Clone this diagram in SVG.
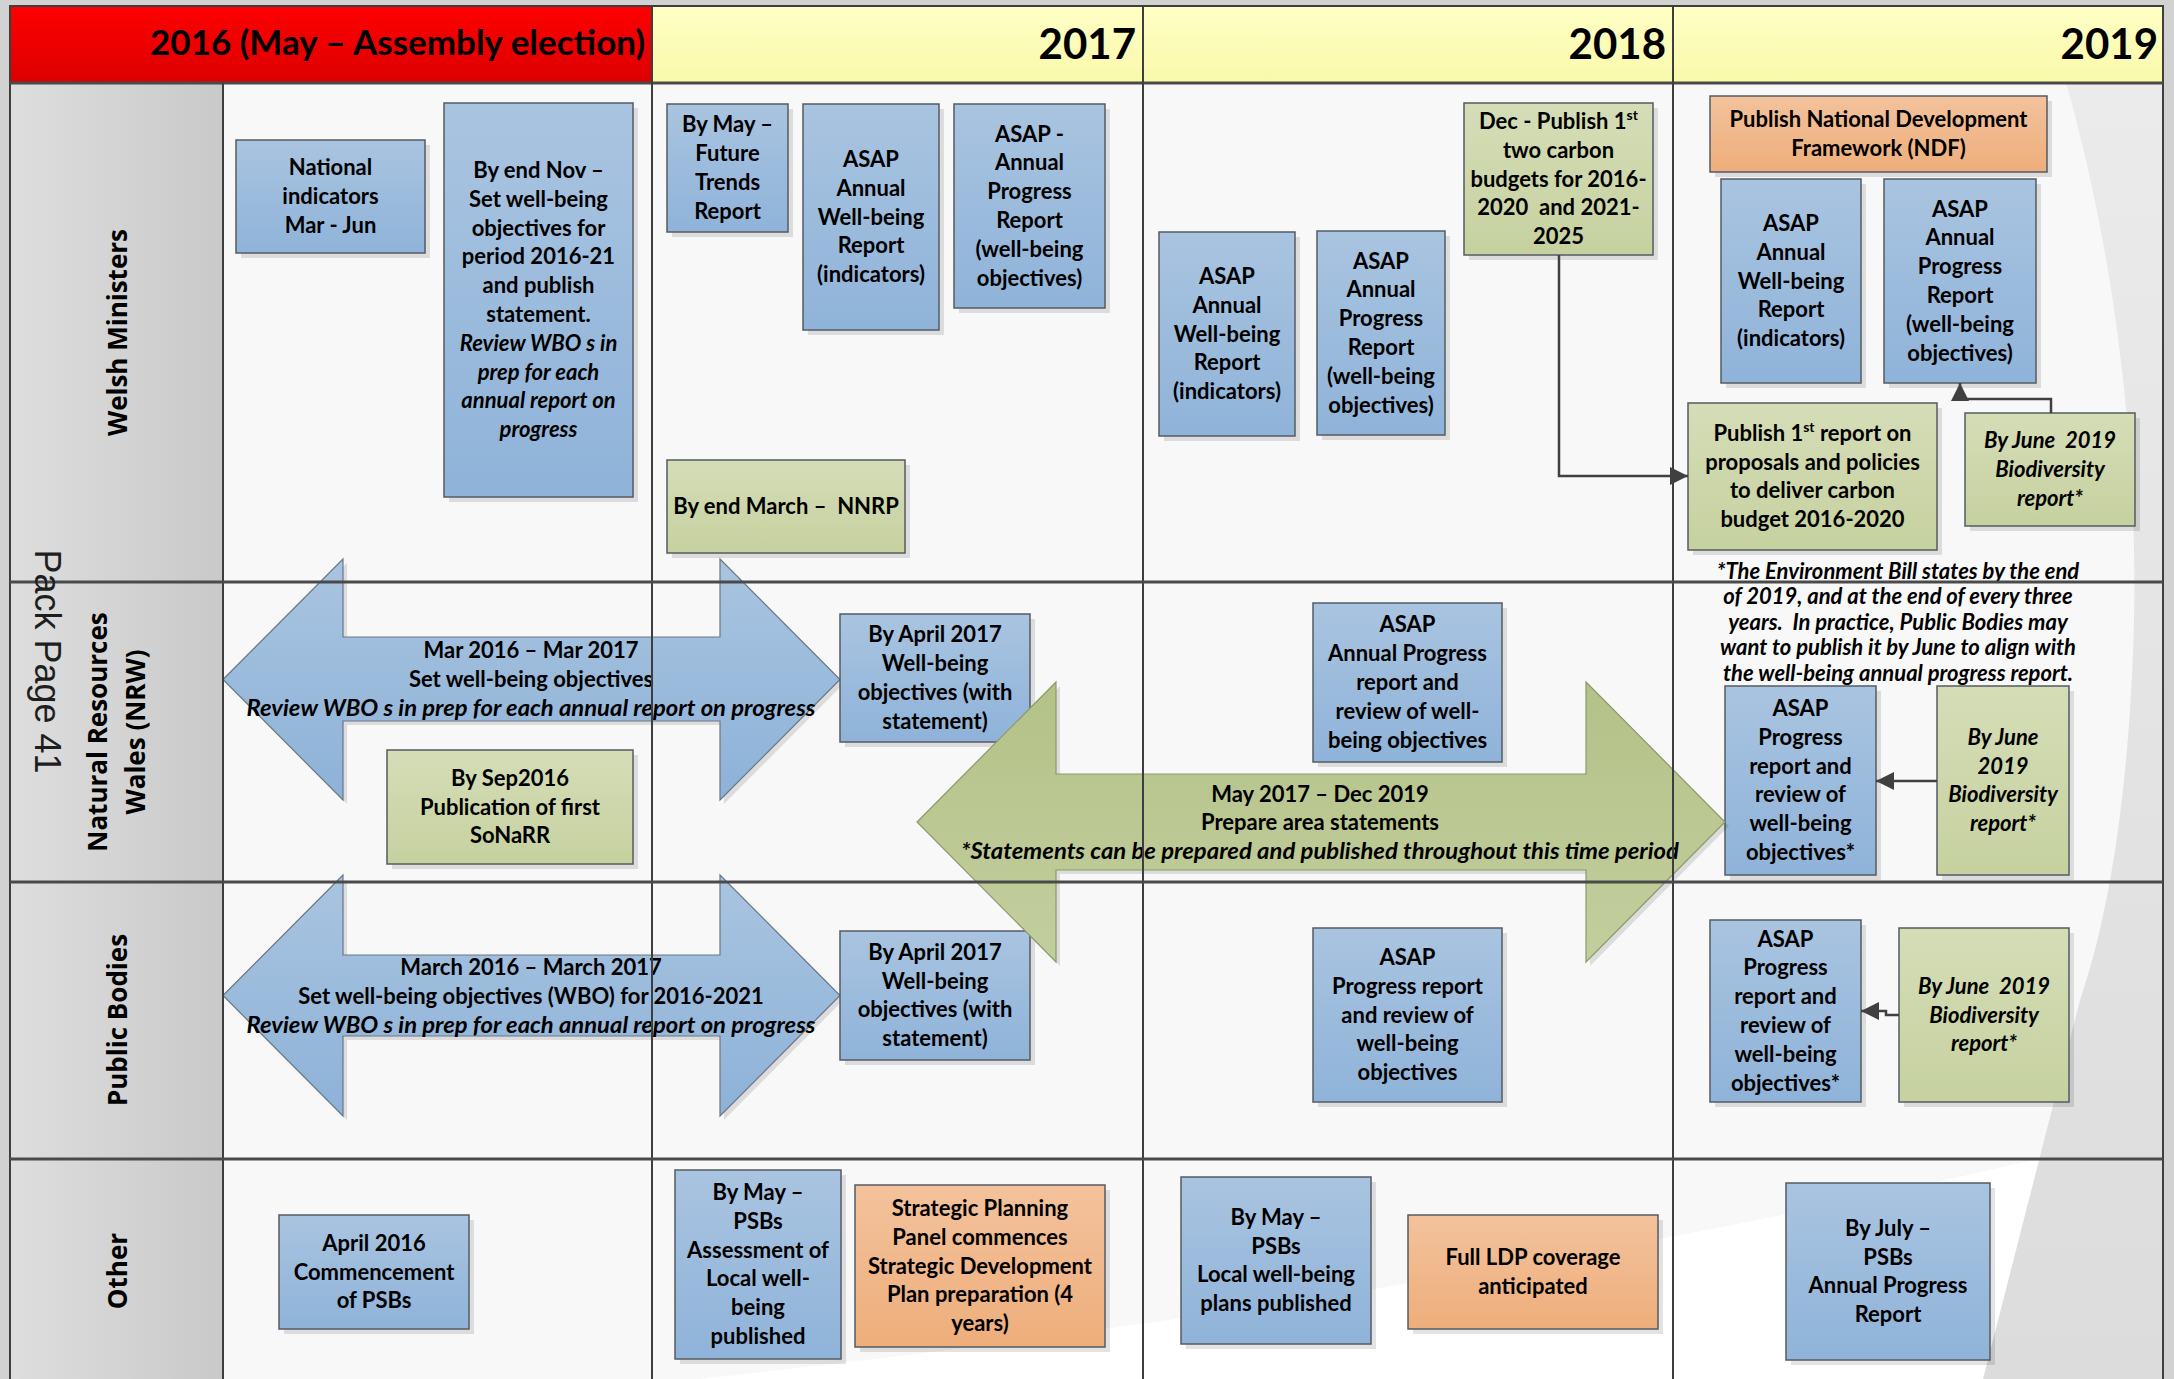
<svg xmlns="http://www.w3.org/2000/svg" width="2174" height="1379" viewBox="0 0 2174 1379">
<defs>
<linearGradient id="gBlue" x1="0" y1="0" x2="0" y2="1"><stop offset="0" stop-color="#a9c4e0"/><stop offset="1" stop-color="#8fb3d9"/></linearGradient>
<linearGradient id="gGreen" x1="0" y1="0" x2="0" y2="1"><stop offset="0" stop-color="#d5ddb7"/><stop offset="1" stop-color="#c6d19f"/></linearGradient>
<linearGradient id="gOrange" x1="0" y1="0" x2="0" y2="1"><stop offset="0" stop-color="#f3c29c"/><stop offset="1" stop-color="#eeae7b"/></linearGradient>
<linearGradient id="gRed" x1="0" y1="0" x2="0" y2="1"><stop offset="0" stop-color="#ff0000"/><stop offset="1" stop-color="#dc0000"/></linearGradient>
<linearGradient id="gYellow" x1="0" y1="0" x2="0" y2="1"><stop offset="0" stop-color="#ffffc6"/><stop offset="1" stop-color="#f9f9aa"/></linearGradient>
<linearGradient id="gLane" x1="0" y1="0" x2="1" y2="0"><stop offset="0" stop-color="#dedede"/><stop offset="1" stop-color="#c9c9c9"/></linearGradient>
<linearGradient id="gBlueArrow" x1="0" y1="0" x2="0" y2="1"><stop offset="0" stop-color="#a9c4e0"/><stop offset="1" stop-color="#8db2d8"/></linearGradient>
<linearGradient id="gGreenArrow" x1="0" y1="0" x2="0" y2="1"><stop offset="0" stop-color="#b3c287"/><stop offset="1" stop-color="#c3ce9e"/></linearGradient>
<linearGradient id="gCurl" x1="0" y1="0" x2="0" y2="1"><stop offset="0" stop-color="#ebebeb"/><stop offset="1" stop-color="#dcdcdc"/></linearGradient>
<marker id="ah" markerWidth="18" markerHeight="18" viewBox="0 0 18 18" refX="18" refY="9" orient="auto" markerUnits="userSpaceOnUse"><path d="M0,0 L18,9 L0,18 Z" fill="#404040"/></marker>
<style>
.t{font-family:Lato,"Liberation Sans",sans-serif;font-weight:700;font-size:22px;fill:#000;text-anchor:middle}
.i{font-style:italic}
.hd{font-family:Lato,"Liberation Sans",sans-serif;font-weight:700;fill:#000;text-anchor:end}
.lane{font-family:"Open Sans","DejaVu Sans",sans-serif;font-weight:700;font-size:26px;fill:#000;text-anchor:middle}
.box{stroke:#545b63;stroke-width:1.5}
.blue{fill:url(#gBlue)}
.green{fill:url(#gGreen)}
.orange{fill:url(#gOrange)}
.sh{fill:#000;fill-opacity:.11}
.grid{stroke:#3e3e3e;stroke-width:2;fill:none}
.row{stroke:#4a4a4a;stroke-width:3;fill:none}
.conn{stroke:#404040;stroke-width:2.5;fill:none;marker-end:url(#ah)}
.sup{font-size:14px}
</style>
</defs>

<rect x="0" y="0" width="2174" height="1379" fill="#d2d2d2"/>
<g id="background">
<rect x="223" y="83" width="1940" height="1296" fill="#f8f8f8"/>
<path d="M700,1379 C1100,1335 1650,1260 2163,1128 V1379 Z" fill="#ffffff"/>
<path d="M2066,83 C2108,230 2138,420 2134,620 C2130,790 2108,920 2080,1000 L1983,1379 H2163 V83 Z" fill="url(#gCurl)"/>
</g>

<g id="header">
<rect x="10" y="6" width="642" height="77" fill="url(#gRed)"/>
<rect x="652" y="6" width="1511" height="77" fill="url(#gYellow)"/>
<text class="hd" x="645" y="55" font-size="35">2016 (May – Assembly election)</text>
<text class="hd" x="1136" y="59" font-size="42">2017</text>
<text class="hd" x="1666" y="59" font-size="42">2018</text>
<text class="hd" x="2158" y="59" font-size="42">2019</text>
</g>

<g id="lanes">
<rect x="10" y="83" width="213" height="1296" fill="url(#gLane)"/>
<text class="lane" transform="translate(127,332.5) rotate(-90)">Welsh Ministers</text>
<text class="lane" transform="translate(107,732) rotate(-90)">Natural Resources</text>
<text class="lane" transform="translate(145,732) rotate(-90)">Wales (NRW)</text>
<text class="lane" transform="translate(127,1020) rotate(-90)">Public Bodies</text>
<text class="lane" transform="translate(127,1271) rotate(-90)">Other</text>
</g>

<g id="arrow-nrw">
<polygon points="227,683.5 347,563 347,641 724,641 724,563 844,683.5 724,804 724,725 347,725 347,804" class="sh"/>
<polygon points="223,679.5 343,559 343,637 720,637 720,559 840,679.5 720,800 720,721 343,721 343,800" fill="url(#gBlueArrow)" stroke="#6b7785" stroke-width="1.2"/>
<text class="t" x="531" y="657.5">Mar 2016 – Mar 2017</text>
<text class="t" x="531" y="686.5">Set well-being objectives</text>
<text class="t i" x="531" y="715.5" textLength="569" lengthAdjust="spacingAndGlyphs">Review WBO s in prep for each annual report on progress</text>
</g>

<g id="arrow-pb">
<polygon points="227,999.5 347,879 347,959 724,959 724,879 844,999.5 724,1120 724,1040 347,1040 347,1120" class="sh"/>
<polygon points="223,995.5 343,875 343,955 720,955 720,875 840,995.5 720,1116 720,1036 343,1036 343,1116" fill="url(#gBlueArrow)" stroke="#6b7785" stroke-width="1.2"/>
<text class="t" x="531" y="974.5">March 2016 – March 2017</text>
<text class="t" x="531" y="1003.5">Set well-being objectives (WBO) for 2016-2021</text>
<text class="t i" x="531" y="1032.5" textLength="569" lengthAdjust="spacingAndGlyphs">Review WBO s in prep for each annual report on progress</text>
</g>

<g id="nodes">
<g id="n-natind"><rect class="sh" x="241" y="145" width="189" height="113"/><rect class="box blue" x="236" y="140" width="189" height="113"/>
<text class="t"><tspan x="330.5" y="175.2">National</tspan><tspan x="330.5" y="204">indicators</tspan><tspan x="330.5" y="232.8">Mar - Jun</tspan></text></g>

<g id="n-endnov"><rect class="sh" x="449" y="108" width="189" height="394"/><rect class="box blue" x="444" y="103" width="189" height="394"/>
<text class="t"><tspan x="538.5" y="177.9">By end Nov –</tspan><tspan x="538.5" y="206.7">Set well-being</tspan><tspan x="538.5" y="235.5">objectives for</tspan><tspan x="538.5" y="264.3">period 2016-21</tspan><tspan x="538.5" y="293.1">and publish</tspan><tspan x="538.5" y="321.9">statement.</tspan></text>
<text class="t i" font-size="23"><tspan x="538.5" y="350.7">Review WBO s in</tspan><tspan x="538.5" y="379.5">prep for each</tspan><tspan x="538.5" y="408.3">annual report on</tspan><tspan x="538.5" y="437.1">progress</tspan></text></g>

<g id="n-futtrends"><rect class="sh" x="672" y="109" width="121" height="128"/><rect class="box blue" x="667" y="104" width="121" height="128"/>
<text class="t"><tspan x="727.5" y="132.3">By May –</tspan><tspan x="727.5" y="161.1">Future</tspan><tspan x="727.5" y="189.9">Trends</tspan><tspan x="727.5" y="218.7">Report</tspan></text></g>

<g id="n-wb17"><rect class="sh" x="808" y="109" width="136" height="226"/><rect class="box blue" x="803" y="104" width="136" height="226"/>
<text class="t"><tspan x="871" y="166.9">ASAP</tspan><tspan x="871" y="195.7">Annual</tspan><tspan x="871" y="224.5">Well-being</tspan><tspan x="871" y="253.3">Report</tspan><tspan x="871" y="282.1">(indicators)</tspan></text></g>

<g id="n-ap17"><rect class="sh" x="959" y="109" width="151" height="204"/><rect class="box blue" x="954" y="104" width="151" height="204"/>
<text class="t"><tspan x="1029.5" y="141.5">ASAP -</tspan><tspan x="1029.5" y="170.3">Annual</tspan><tspan x="1029.5" y="199.1">Progress</tspan><tspan x="1029.5" y="227.9">Report</tspan><tspan x="1029.5" y="256.7">(well-being</tspan><tspan x="1029.5" y="285.5">objectives)</tspan></text></g>

<g id="n-nnrp"><rect class="sh" x="672" y="465" width="238" height="93"/><rect class="box green" x="667" y="460" width="238" height="93"/>
<text class="t" x="786" y="514" xml:space="preserve">By end March –  NNRP</text></g>

<g id="n-wb18"><rect class="sh" x="1164" y="237" width="136" height="204"/><rect class="box blue" x="1159" y="232" width="136" height="204"/>
<text class="t"><tspan x="1227" y="283.9">ASAP</tspan><tspan x="1227" y="312.7">Annual</tspan><tspan x="1227" y="341.5">Well-being</tspan><tspan x="1227" y="370.3">Report</tspan><tspan x="1227" y="399.1">(indicators)</tspan></text></g>

<g id="n-ap18"><rect class="sh" x="1322" y="236" width="128" height="204"/><rect class="box blue" x="1317" y="231" width="128" height="204"/>
<text class="t"><tspan x="1381" y="268.5">ASAP</tspan><tspan x="1381" y="297.3">Annual</tspan><tspan x="1381" y="326.1">Progress</tspan><tspan x="1381" y="354.9">Report</tspan><tspan x="1381" y="383.7">(well-being</tspan><tspan x="1381" y="412.5">objectives)</tspan></text></g>

<g id="n-carbon"><rect class="sh" x="1469" y="108" width="189" height="152"/><rect class="box green" x="1464" y="103" width="189" height="152"/>
<text class="t"><tspan x="1558.5" y="128.9">Dec - Publish 1<tspan class="sup" dy="-9">st</tspan></tspan><tspan x="1558.5" y="157.7">two carbon</tspan><tspan x="1558.5" y="186.5">budgets for 2016-</tspan><tspan x="1558.5" y="215.3" xml:space="preserve">2020  and 2021-</tspan><tspan x="1558.5" y="244.1">2025</tspan></text></g>

<g id="n-ndf"><rect class="sh" x="1715" y="101" width="337" height="76"/><rect class="box orange" x="1710" y="96" width="337" height="76"/>
<text class="t"><tspan x="1878.5" y="127.1">Publish National Development</tspan><tspan x="1878.5" y="155.9">Framework (NDF)</tspan></text></g>

<g id="n-wb19"><rect class="sh" x="1726" y="184" width="140" height="204"/><rect class="box blue" x="1721" y="179" width="140" height="204"/>
<text class="t"><tspan x="1791" y="230.9">ASAP</tspan><tspan x="1791" y="259.7">Annual</tspan><tspan x="1791" y="288.5">Well-being</tspan><tspan x="1791" y="317.3">Report</tspan><tspan x="1791" y="346.1">(indicators)</tspan></text></g>

<g id="n-ap19"><rect class="sh" x="1889" y="184" width="152" height="204"/><rect class="box blue" x="1884" y="179" width="152" height="204"/>
<text class="t"><tspan x="1960" y="216.5">ASAP</tspan><tspan x="1960" y="245.3">Annual</tspan><tspan x="1960" y="274.1">Progress</tspan><tspan x="1960" y="302.9">Report</tspan><tspan x="1960" y="331.7">(well-being</tspan><tspan x="1960" y="360.5">objectives)</tspan></text></g>

<g id="n-carbonreport"><rect class="sh" x="1693" y="408" width="249" height="147"/><rect class="box green" x="1688" y="403" width="249" height="147"/>
<text class="t"><tspan x="1812.5" y="440.8">Publish 1<tspan class="sup" dy="-9">st</tspan><tspan dy="9"> report on</tspan></tspan><tspan x="1812.5" y="469.6">proposals and policies</tspan><tspan x="1812.5" y="498.4">to deliver carbon</tspan><tspan x="1812.5" y="527.2">budget 2016-2020</tspan></text></g>

<g id="n-bio1"><rect class="sh" x="1970" y="418" width="170" height="113"/><rect class="box green" x="1965" y="413" width="170" height="113"/>
<text class="t i"><tspan x="2050" y="448.2" xml:space="preserve">By June  2019</tspan><tspan x="2050" y="477">Biodiversity</tspan><tspan x="2050" y="505.8">report*</tspan></text></g>

<g id="n-footnote">
<text class="t i" font-size="18.5"><tspan x="1898" y="578.5">*The Environment Bill states by the end</tspan><tspan x="1898" y="604">of 2019, and at the end of every three</tspan><tspan x="1898" y="629.5" xml:space="preserve">years.  In practice, Public Bodies may</tspan><tspan x="1898" y="655">want to publish it by June to align with</tspan><tspan x="1898" y="680.5">the well-being annual progress report.</tspan></text></g>

<g id="n-apr17n"><rect class="sh" x="845" y="619" width="190" height="128"/><rect class="box blue" x="840" y="614" width="190" height="128"/>
<text class="t"><tspan x="935" y="642.3">By April 2017</tspan><tspan x="935" y="671.1">Well-being</tspan><tspan x="935" y="699.9">objectives (with</tspan><tspan x="935" y="728.7">statement)</tspan></text></g>

<g id="n-sonarr"><rect class="sh" x="392" y="755" width="246" height="114"/><rect class="box green" x="387" y="750" width="246" height="114"/>
<text class="t"><tspan x="510" y="785.7">By Sep2016</tspan><tspan x="510" y="814.5">Publication of first</tspan><tspan x="510" y="843.3">SoNaRR</tspan></text></g>

<g id="n-ap18n"><rect class="sh" x="1318" y="608" width="189" height="159"/><rect class="box blue" x="1313" y="603" width="189" height="159"/>
<text class="t"><tspan x="1407.5" y="632.4">ASAP</tspan><tspan x="1407.5" y="661.2">Annual Progress</tspan><tspan x="1407.5" y="690">report and</tspan><tspan x="1407.5" y="718.8">review of well-</tspan><tspan x="1407.5" y="747.6">being objectives</tspan></text></g>

<g id="n-ap19n"><rect class="sh" x="1730" y="691" width="151" height="189"/><rect class="box blue" x="1725" y="686" width="151" height="189"/>
<text class="t"><tspan x="1800.5" y="716">ASAP</tspan><tspan x="1800.5" y="744.8">Progress</tspan><tspan x="1800.5" y="773.6">report and</tspan><tspan x="1800.5" y="802.4">review of</tspan><tspan x="1800.5" y="831.2">well-being</tspan><tspan x="1800.5" y="860">objectives*</tspan></text></g>

<g id="n-bio2"><rect class="sh" x="1942" y="691" width="132" height="189"/><rect class="box green" x="1937" y="686" width="132" height="189"/>
<text class="t i"><tspan x="2003" y="744.8">By June</tspan><tspan x="2003" y="773.6">2019</tspan><tspan x="2003" y="802.4">Biodiversity</tspan><tspan x="2003" y="831.2">report*</tspan></text></g>

<g id="n-apr17p"><rect class="sh" x="845" y="936" width="190" height="129"/><rect class="box blue" x="840" y="931" width="190" height="129"/>
<text class="t"><tspan x="935" y="959.8">By April 2017</tspan><tspan x="935" y="988.6">Well-being</tspan><tspan x="935" y="1017.4">objectives (with</tspan><tspan x="935" y="1046.2">statement)</tspan></text></g>

<g id="n-ap18p"><rect class="sh" x="1318" y="933" width="189" height="174"/><rect class="box blue" x="1313" y="928" width="189" height="174"/>
<text class="t"><tspan x="1407.5" y="964.9">ASAP</tspan><tspan x="1407.5" y="993.7">Progress report</tspan><tspan x="1407.5" y="1022.5">and review of</tspan><tspan x="1407.5" y="1051.3">well-being</tspan><tspan x="1407.5" y="1080.1">objectives</tspan></text></g>

<g id="n-ap19p"><rect class="sh" x="1715" y="925" width="151" height="182"/><rect class="box blue" x="1710" y="920" width="151" height="182"/>
<text class="t"><tspan x="1785.5" y="946.5">ASAP</tspan><tspan x="1785.5" y="975.3">Progress</tspan><tspan x="1785.5" y="1004.1">report and</tspan><tspan x="1785.5" y="1032.9">review of</tspan><tspan x="1785.5" y="1061.7">well-being</tspan><tspan x="1785.5" y="1090.5">objectives*</tspan></text></g>

<g id="n-bio3"><rect class="sh" x="1904" y="933" width="170" height="174"/><rect class="box green" x="1899" y="928" width="170" height="174"/>
<text class="t i"><tspan x="1984" y="993.7" xml:space="preserve">By June  2019</tspan><tspan x="1984" y="1022.5">Biodiversity</tspan><tspan x="1984" y="1051.3">report*</tspan></text></g>

<g id="n-psb16"><rect class="sh" x="284" y="1220" width="190" height="114"/><rect class="box blue" x="279" y="1215" width="190" height="114"/>
<text class="t"><tspan x="374" y="1250.7">April 2016</tspan><tspan x="374" y="1279.5">Commencement</tspan><tspan x="374" y="1308.3">of PSBs</tspan></text></g>

<g id="n-assess"><rect class="sh" x="680" y="1175" width="166" height="189"/><rect class="box blue" x="675" y="1170" width="166" height="189"/>
<text class="t"><tspan x="758" y="1200">By May –</tspan><tspan x="758" y="1228.8">PSBs</tspan><tspan x="758" y="1257.6">Assessment of</tspan><tspan x="758" y="1286.4">Local well-</tspan><tspan x="758" y="1315.2">being</tspan><tspan x="758" y="1344">published</tspan></text></g>

<g id="n-spp"><rect class="sh" x="860" y="1190" width="250" height="162"/><rect class="box orange" x="855" y="1185" width="250" height="162"/>
<text class="t"><tspan x="980" y="1215.9">Strategic Planning</tspan><tspan x="980" y="1244.7">Panel commences</tspan><tspan x="980" y="1273.5">Strategic Development</tspan><tspan x="980" y="1302.3">Plan preparation (4</tspan><tspan x="980" y="1331.1">years)</tspan></text></g>

<g id="n-lwbp"><rect class="sh" x="1186" y="1182" width="190" height="167"/><rect class="box blue" x="1181" y="1177" width="190" height="167"/>
<text class="t"><tspan x="1276" y="1224.8">By May –</tspan><tspan x="1276" y="1253.6">PSBs</tspan><tspan x="1276" y="1282.4">Local well-being</tspan><tspan x="1276" y="1311.2">plans published</tspan></text></g>

<g id="n-ldp"><rect class="sh" x="1413" y="1220" width="250" height="114"/><rect class="box orange" x="1408" y="1215" width="250" height="114"/>
<text class="t"><tspan x="1533" y="1265.1">Full LDP coverage</tspan><tspan x="1533" y="1293.9">anticipated</tspan></text></g>

<g id="n-july"><rect class="sh" x="1791" y="1188" width="204" height="177"/><rect class="box blue" x="1786" y="1183" width="204" height="177"/>
<text class="t"><tspan x="1888" y="1235.8">By July –</tspan><tspan x="1888" y="1264.6">PSBs</tspan><tspan x="1888" y="1293.4">Annual Progress</tspan><tspan x="1888" y="1322.2">Report</tspan></text></g>
</g>

<g id="arrow-green">
<polygon points="921,826 1060,686 1060,778 1590,778 1590,686 1729,826 1590,966 1590,874 1060,874 1060,966" class="sh"/>
<polygon points="917,822 1056,682 1056,774 1586,774 1586,682 1725,822 1586,962 1586,870 1056,870 1056,962" fill="url(#gGreenArrow)" stroke="#8a9a6a" stroke-width="1.2"/>
<text class="t" x="1320" y="801.5">May 2017 – Dec 2019</text>
<text class="t" x="1320" y="829.5">Prepare area statements</text>
<text class="t i" x="1320" y="858.5" textLength="718" lengthAdjust="spacingAndGlyphs">*Statements can be prepared and published throughout this time period</text>
</g>

<g id="grid">
<rect class="grid" x="10" y="6" width="2153" height="1380"/>
<line class="row" x1="10" y1="83" x2="2163" y2="83"/>
<line class="grid" x1="652" y1="6" x2="652" y2="1379"/>
<line class="grid" x1="1143" y1="6" x2="1143" y2="1379"/>
<line class="grid" x1="1673" y1="6" x2="1673" y2="1379"/>
<line class="grid" x1="223" y1="83" x2="223" y2="1379"/>
<line class="row" x1="10" y1="582" x2="2163" y2="582"/>
<line class="row" x1="10" y1="882" x2="2163" y2="882"/>
<line class="row" x1="10" y1="1159" x2="2163" y2="1159"/>
</g>

<g id="connectors">
<path class="conn" d="M1559,255 V476 H1688"/>
<path class="conn" d="M2051,413 V399 H1960 V383"/>
<path class="conn" d="M1937,781 H1876"/>
<path class="conn" d="M1899,1015 H1886 V1011 H1861"/>
</g>

<g id="pack-page">
<text transform="translate(35,661.5) rotate(90)" font-family="'Liberation Sans',Arial,sans-serif" font-size="36" fill="#1e1e1e" text-anchor="middle">Pack Page 41</text>
</g>
</svg>
